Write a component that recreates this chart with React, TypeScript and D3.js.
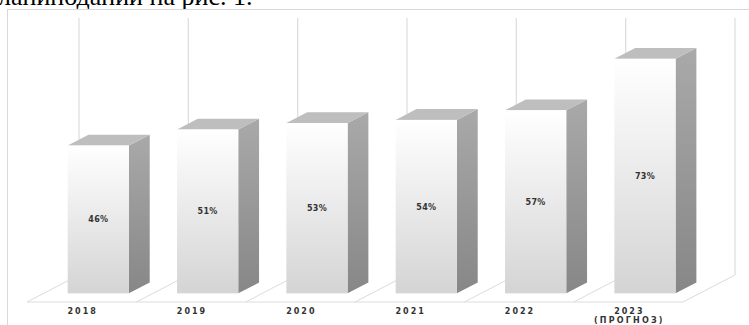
import React from "react";
import * as d3 from "d3";

const categories = ["2018", "2019", "2020", "2021", "2022", "2023"];
const subLabels = ["", "", "", "", "", "(ПРОГНОЗ)"];
const values = [46, 51, 53, 54, 57, 73];
const valueLabels = ["46%", "51%", "53%", "54%", "57%", "73%"];
const headerText = "ланиподании на рис. 1.";

const W = 749;
const H = 325;

export default function App() {
  // floor geometry (front edge) and depth offset
  const floorLeft = 27;
  const floorRight = 683;
  const floorFrontY = 302;
  const depthDX = 52;
  const depthDY = -27;
  const wallTop = 18;

  const x = d3
    .scaleBand<string>()
    .domain(categories)
    .range([floorLeft, floorRight])
    .paddingInner(0.44)
    .paddingOuter(0.22);

  const xCat = d3
    .scaleBand<string>()
    .domain(categories)
    .range([floorLeft, floorRight])
    .padding(0);

  const backBottom = floorFrontY + depthDY;
  const y = d3.scaleLinear().domain([0, 80]).range([0, backBottom - wallTop]);

  const frontDepth = 0.32;
  const backDepth = 0.72;
  const fdx = frontDepth * depthDX;
  const fdy = frontDepth * depthDY;
  const bdx = (backDepth - frontDepth) * depthDX;
  const bdy = (backDepth - frontDepth) * depthDY;
  const barBottom = floorFrontY + fdy;
  const bw = x.bandwidth();
  const step = xCat.step();

  const gridColor = "#dcdcdc";
  const boundaries = d3.range(categories.length + 1).map((i) => floorLeft + i * step);

  return (
    <svg
      width={W}
      height={H}
      style={{ position: "absolute", left: 0, top: 0, background: "#fff" }}
    >
      <defs>
        <linearGradient id="frontGrad" x1="0" y1="0" x2="0" y2="1">
          <stop offset="0" stopColor="#ffffff" />
          <stop offset="1" stopColor="#d4d4d4" />
        </linearGradient>
        <linearGradient id="sideGrad" x1="0" y1="0" x2="0" y2="1">
          <stop offset="0" stopColor="#a9a9a9" />
          <stop offset="1" stopColor="#878787" />
        </linearGradient>
      </defs>

      <text
        x={-2}
        y={5}
        fontFamily="'Liberation Serif', 'DejaVu Serif', serif"
        fontSize={26}
        fill="#000"
      >
        {headerText}
      </text>

      {/* chart frame */}
      <rect x={7.5} y={9.5} width={800} height={400} fill="#fff" stroke="#d9d9d9" strokeWidth={1} />

      {/* back wall vertical gridlines */}
      {boundaries.map((bx, i) => (
        <line
          key={"g" + i}
          x1={bx + depthDX}
          x2={bx + depthDX}
          y1={wallTop}
          y2={backBottom}
          stroke={gridColor}
          strokeWidth={1.2}
        />
      ))}

      {/* floor */}
      <line
        x1={floorLeft}
        x2={floorRight}
        y1={floorFrontY}
        y2={floorFrontY}
        stroke={gridColor}
        strokeWidth={1}
      />
      {boundaries.map((bx, i) => (
        <line
          key={"f" + i}
          x1={bx}
          y1={floorFrontY}
          x2={bx + depthDX}
          y2={backBottom}
          stroke={gridColor}
          strokeWidth={1}
        />
      ))}

      {/* bars */}
      {categories.map((c, i) => {
        const x0 = (x(c) as number) + fdx;
        const h = y(values[i]);
        const yt = barBottom - h;
        const yb = barBottom;
        const top = [
          [x0, yt],
          [x0 + bw, yt],
          [x0 + bw + bdx, yt + bdy],
          [x0 + bdx, yt + bdy],
        ];
        const side = [
          [x0 + bw, yt],
          [x0 + bw + bdx, yt + bdy],
          [x0 + bw + bdx, yb + bdy],
          [x0 + bw, yb],
        ];
        const pts = (p: number[][]) => p.map((q) => q.join(",")).join(" ");
        return (
          <g key={c}>
            <polygon points={pts(side)} fill="url(#sideGrad)" />
            <polygon points={pts(top)} fill="#bebebe" />
            <rect x={x0} y={yt} width={bw} height={h} fill="url(#frontGrad)" />
            <text
              x={x0 + bw / 2}
              y={yt + h / 2 + 3}
              textAnchor="middle"
              fontFamily="'DejaVu Sans', sans-serif"
              fontWeight="bold"
              fontSize={8}
              letterSpacing={0.3}
              fill="#333"
            >
              {valueLabels[i]}
            </text>
          </g>
        );
      })}

      {/* category labels */}
      {categories.map((c, i) => {
        const cx = (xCat(c) as number) + step / 2 + 1;
        return (
          <g key={"l" + c}>
            <text
              x={cx}
              y={314}
              textAnchor="middle"
              fontFamily="'DejaVu Sans', sans-serif"
              fontWeight="bold"
              fontSize={8}
              letterSpacing={2}
              fill="#333"
            >
              {c}
            </text>
            {subLabels[i] && (
              <text
                x={cx}
                y={323}
                textAnchor="middle"
                fontFamily="'DejaVu Sans', sans-serif"
                fontWeight="bold"
                fontSize={8}
                letterSpacing={2.2}
                fill="#333"
              >
                {subLabels[i]}
              </text>
            )}
          </g>
        );
      })}
    </svg>
  );
}
